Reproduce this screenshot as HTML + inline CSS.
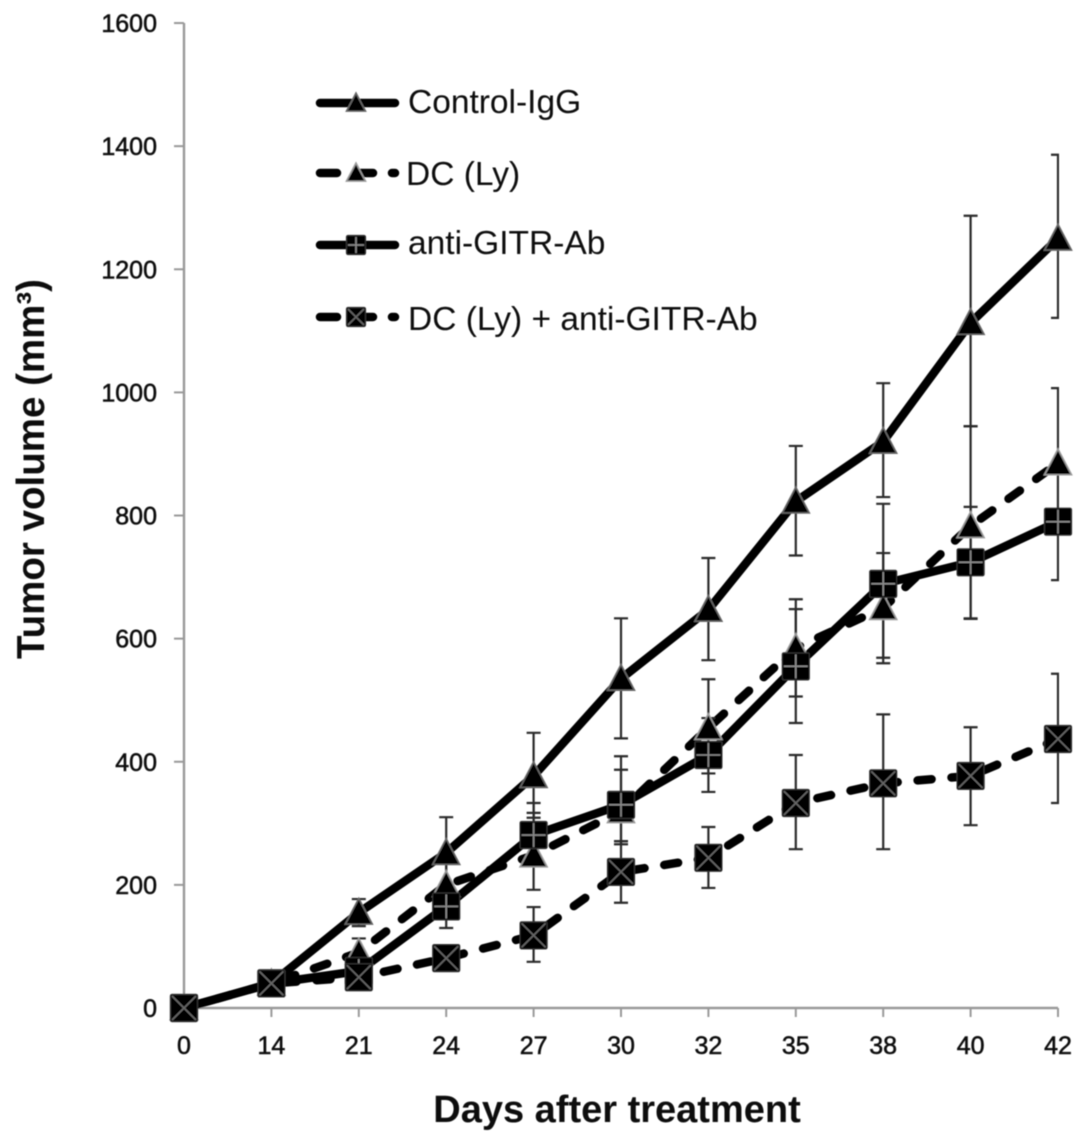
<!DOCTYPE html>
<html>
<head>
<meta charset="utf-8">
<style>
html,body{margin:0;padding:0;background:#fff;}
svg{display:block;font-family:"Liberation Sans",sans-serif;}
</style>
</head>
<body>
<svg id="chart" width="1087" height="1142" viewBox="0 0 1087 1142" xmlns="http://www.w3.org/2000/svg">
<defs>
<clipPath id="plot-clip"><rect x="120" y="0" width="939" height="1142"/></clipPath>
<filter id="soft" x="-2%" y="-2%" width="104%" height="104%"><feGaussianBlur stdDeviation="0.6"/></filter>
</defs>
<g id="root" filter="url(#soft)">
<g id="axes"></g>
<g id="series" clip-path="url(#plot-clip)"></g>
<g id="markers"></g>
<g id="legend"></g>
<text x="617" y="1122" text-anchor="middle" font-size="38" font-weight="bold" fill="#0a0a0a">Days after treatment</text>
<text transform="translate(44,469) rotate(-90)" text-anchor="middle" font-size="38.5" font-weight="bold" fill="#0a0a0a">Tumor volume (mm³)</text>
</g>
</svg>
<script>
const categories = ['0','14','21','24','27','30','32','35','38','40','42'];
const yTicks = [0,200,400,600,800,1000,1200,1400,1600];

const controlValues = [0,40,155,252,377,535,647,823,920,1113,1250];
const controlTop    = [null,null,177,310,447,633,731,913,1015,1287,1386];
const controlBottom = [null,null,133,194,309,438,565,735,830,945,1121];

const dcValues = [0,40,90,200,248,320,455,585,650,783,885];
const dcTop    = [null,null,113,250,333,387,534,664,739,945,1007];
const dcBottom = [null,null,67,150,192,271,381,506,569,632,775];

const gitrValues = [0,40,60,165,281,330,411,555,689,724,790];
const gitrTop    = [null,null,75,200,317,409,471,648,819,814,885];
const gitrBottom = [null,null,45,130,245,266,351,463,560,633,695];

const comboValues = [0,40,50,81,118,221,244,333,365,377,437];
const comboTop    = [null,null,65,100,164,271,294,411,477,456,543];
const comboBottom = [null,null,35,62,75,171,195,258,258,297,333];

const legendLabels = ['Control-IgG','DC (Ly)','anti-GITR-Ab','DC (Ly) + anti-GITR-Ab'];

const NS = 'http://www.w3.org/2000/svg';
const xScale = i => 184 + i * 87.4;
const yScale = v => 1008 - v * 0.6156;

function mk(tag, attrs, parent) {
  const el = document.createElementNS(NS, tag);
  for (const k in attrs) el.setAttribute(k, attrs[k]);
  parent.appendChild(el);
  return el;
}

const axesG = document.getElementById('axes');
const seriesG = document.getElementById('series');
const markersG = document.getElementById('markers');
const legendG = document.getElementById('legend');

const yAxisLine = mk('line', {x1:184,x2:184,y1:yScale(1600),y2:yScale(0),stroke:'#999','stroke-width':2.4}, axesG);


const xAxisLine = mk('line', {x1:184,x2:xScale(categories.length-1),y1:yScale(0),y2:yScale(0),stroke:'#999','stroke-width':2.4}, axesG);



const tickLabelAttrs = {'text-anchor':'end','font-size':25,fill:'#111',stroke:'#111','stroke-width':0.55};
yTicks.forEach(t => {
  const tick = mk('line', {x1:174,x2:184,y1:yScale(t),y2:yScale(t),stroke:'#999','stroke-width':2}, axesG);
  
  
  const label = mk('text', Object.assign({x:157,y:yScale(t)+9}, tickLabelAttrs), axesG);
  
  
  label.textContent = t;
});
categories.forEach((c, i) => {
  const tick = mk('line', {x1:xScale(i),x2:xScale(i),y1:yScale(0),y2:yScale(0)+9,stroke:'#999','stroke-width':2}, axesG);
  
  
  const label = mk('text', Object.assign({}, tickLabelAttrs, {x:xScale(i),y:1054,'text-anchor':'middle'}), axesG);
  
  
  label.textContent = c;
});

function drawTriangle(g, cx, cy, s, edge) {
  const h = s * 0.95;
  const pts = (cx-s/2)+','+(cy+h*0.45)+' '+(cx+s/2)+','+(cy+h*0.45)+' '+cx+','+(cy-h*0.55);
  mk('polygon', {points:pts,fill:'#000',stroke:edge,'stroke-width':1.6,'stroke-linejoin':'miter'}, g);
}
function drawSquare(g, cx, cy, s, glyph) {
  mk('rect', {x:cx-s/2,y:cy-s/2,width:s,height:s,rx:1.5,fill:'#000',stroke:'#333','stroke-width':1.2}, g);
  const a = s/2 - 1.5;
  const st = {stroke:glyph === 'plus' ? '#8a8a8a' : '#666','stroke-width':1.6};
  if (glyph === 'plus') {
    mk('line', Object.assign({x1:cx-a,x2:cx+a,y1:cy,y2:cy}, st), g);
    mk('line', Object.assign({x1:cx,x2:cx,y1:cy-a,y2:cy+a}, st), g);
  } else {
    mk('line', Object.assign({x1:cx-a,x2:cx+a,y1:cy-a,y2:cy+a}, st), g);
    mk('line', Object.assign({x1:cx-a,x2:cx+a,y1:cy+a,y2:cy-a}, st), g);
  }
}
function drawMarker(g, s, cx, cy, size) {
  if (s.marker === 'triangle') drawTriangle(g, cx, cy, size, s.key === 'dc' ? '#9a9a9a' : '#666');
  else drawSquare(g, cx, cy, size, s.marker);
}

const seriesList = [
  {key:'control', values:controlValues, top:controlTop, bottom:controlBottom, dash:null, marker:'triangle'},
  {key:'dc', values:dcValues, top:dcTop, bottom:dcBottom, dash:'14 20', marker:'triangle'},
  {key:'gitr', values:gitrValues, top:gitrTop, bottom:gitrBottom, dash:null, marker:'plus'},
  {key:'combo', values:comboValues, top:comboTop, bottom:comboBottom, dash:'14 20', marker:'cross'}
];

seriesList.forEach(s => {
  const g = mk('g', {}, seriesG);
  
  
  s.values.forEach((v, i) => {
    if (s.top[i] === null) return;
    const x = xScale(i), yt = yScale(s.top[i]), yb = yScale(s.bottom[i]);
    const bar = mk('path', {d:'M'+(x-7)+' '+yt+'H'+(x+7)+'M'+x+' '+yt+'V'+yb+'M'+(x-7)+' '+yb+'H'+(x+7),fill:'none',stroke:'#2a2a2a','stroke-width':2.2}, g);
    
    
  });
  const d = s.values.map((v, i) => (i ? 'L' : 'M') + xScale(i) + ' ' + yScale(v)).join('');
  const attrs = {d:d,fill:'none',stroke:'#000','stroke-width':8.5,'stroke-linejoin':'round','stroke-linecap':'round'};
  if (s.dash) attrs['stroke-dasharray'] = s.dash;
  const line = mk('path', attrs, g);
  
  
});

seriesList.forEach(s => {
  s.values.forEach((v, i) => {
    const g = mk('g', {}, markersG);
    
    
    drawMarker(g, s, xScale(i), yScale(v), 27);
  });
});

const legendRows = [[103,113,408],[173,185,406],[245,254,408],[317,330,408]];
seriesList.forEach((s, i) => {
  const g = mk('g', {}, legendG);
  
  
  const row = legendRows[i];
  const attrs = {x1:320,x2:395,y1:row[0],y2:row[0],stroke:'#000','stroke-width':8.5,'stroke-linecap':'round'};
  if (s.dash) attrs['stroke-dasharray'] = '17 19';
  const sw = mk('line', attrs, g);
  
  
  drawMarker(g, s, 356, row[0], 19);
  const t = mk('text', {x:row[2],y:row[1],'font-size':33.5,fill:'#0a0a0a'}, g);
  
  
  t.textContent = legendLabels[i];
});
</script>
</body>
</html>
